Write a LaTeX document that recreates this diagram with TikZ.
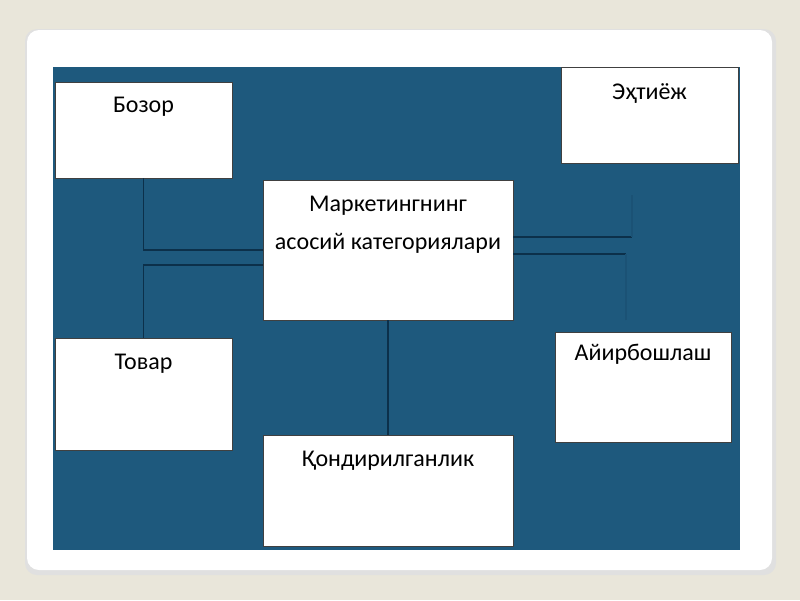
\documentclass[tikz,border=0pt]{standalone}
\usepackage{fontspec}
\setmainfont{Carlito}
\usetikzlibrary{positioning}

\definecolor{pagebg}{RGB}{233,230,218}
\definecolor{panelblue}{RGB}{30,89,125}
\definecolor{linkblue}{RGB}{12,48,74}
\definecolor{faintblue}{RGB}{27,82,117}

\tikzset{
    box/.style={draw=black!75, line width=0.8pt, fill=white, inner sep=0pt},
    lbl/.style={font=\fontsize{24}{28}\selectfont, anchor=base, inner sep=0pt},
    link/.style={draw=linkblue, line width=1.4pt},
    faint/.style={draw=faintblue, line width=1.4pt}
}

\begin{document}
\begin{tikzpicture}[x=1pt, y=-1pt]
        % Page and slide card
        \useasboundingbox (0,0) rectangle (800,600);
        \fill[pagebg] (0,0) rectangle (800,600);
        \fill[black!12, rounded corners=12pt] (25,29) rectangle (776,575);
        \fill[white, rounded corners=12pt] (27,30) rectangle (772,570);
        \fill[panelblue] (53,67) rectangle (740,550);

        % Boxes
        \node[box, minimum width=177pt, minimum height=96pt] (bozor) at (143.5,130) {};
        \node[box, minimum width=177pt, minimum height=96pt] (ehtiyoj) at (649.5,115) {};
        \node[box, minimum width=250pt, minimum height=140pt] (centre) at (388,250) {};
        \node[box, minimum width=177pt, minimum height=112pt] (tovar) at (143.5,394) {};
        \node[box, minimum width=176pt, minimum height=110pt] (ayirb) at (643,387) {};
        \node[box, minimum width=250pt, minimum height=111pt] (qond) at (388,490.5) {};

        % Texts
        \node[lbl] (bozort) at ([yshift=-31pt]bozor.north) {Бозор};
        \node[lbl] (ehtiyojt) at ([yshift=-33pt]ehtiyoj.north) {Эҳтиёж};
        \node[lbl] (centret1) at ([yshift=-32pt]centre.north) {Маркетингнинг};
        \node[lbl] (centret2) at ([yshift=-70pt]centre.north) {асосий категориялари};
        \node[lbl] (tovart) at ([yshift=-32pt]tovar.north) {Товар};
        \node[lbl] (ayirbt) at ([yshift=-29pt]ayirb.north) {Айирбошлаш};
        \node[lbl] (qondt) at ([yshift=-32pt]qond.north) {Қондирилганлик};

        % Connectors
        \coordinate (rtop) at (632,195);
        \coordinate (rbot) at (626,320);
        \draw[link] (bozor.south) |- (centre.west);
        \draw[link] ([yshift=-15pt]centre.west) -| (tovar.north);
        \draw[link] ([yshift=13pt]centre.east) -- ([yshift=13pt]centre.east -| rtop);
        \draw[faint] (rtop) -- ([yshift=13pt]centre.east -| rtop);
        \draw[link] ([yshift=-4pt]centre.east) -- ([yshift=-4pt]centre.east -| rbot);
        \draw[faint] (rbot) -- ([yshift=-4pt]centre.east -| rbot);
        \draw[link] (centre.south) -- (qond.north);

\end{tikzpicture}
\end{document}
